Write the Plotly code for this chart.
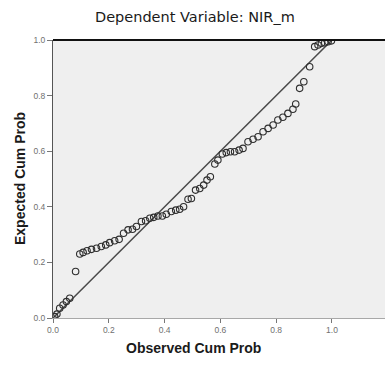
import plotly.graph_objects as go

# Normal P-P plot of regression standardized residual
observed_cum_prob = [
    0.006, 0.014, 0.024, 0.036, 0.048, 0.060, 0.081,
    0.096, 0.108, 0.122, 0.138, 0.156, 0.173, 0.189, 0.203, 0.221, 0.237,
    0.253, 0.269, 0.285, 0.299, 0.317, 0.332, 0.347, 0.361, 0.376, 0.392,
    0.406, 0.424, 0.440, 0.454, 0.468, 0.484, 0.496,
    0.511, 0.526, 0.540, 0.552, 0.564,
    0.580, 0.591, 0.607, 0.621, 0.636, 0.651, 0.667, 0.681,
    0.699, 0.717, 0.735, 0.753, 0.771, 0.789, 0.806, 0.824, 0.842, 0.860,
    0.870, 0.884, 0.899, 0.920,
    0.938, 0.950, 0.962, 0.974, 0.986, 0.998,
]
expected_cum_prob = [
    0.005, 0.014, 0.035, 0.047, 0.059, 0.071, 0.167,
    0.230, 0.236, 0.242, 0.247, 0.251, 0.257, 0.263, 0.271, 0.278, 0.283,
    0.305, 0.317, 0.319, 0.329, 0.347, 0.350, 0.359, 0.362, 0.367, 0.367,
    0.373, 0.383, 0.388, 0.391, 0.400, 0.427, 0.430,
    0.460, 0.466, 0.478, 0.496, 0.508,
    0.554, 0.568, 0.590, 0.595, 0.598, 0.598, 0.604, 0.610,
    0.634, 0.643, 0.652, 0.670, 0.682, 0.694, 0.712, 0.722, 0.736, 0.751,
    0.770, 0.826, 0.850, 0.904,
    0.976, 0.982, 0.988, 0.990, 0.994, 0.997,
]
tick_values = [0.0, 0.2, 0.4, 0.6, 0.8, 1.0]
tick_labels = ["0.0", "0.2", "0.4", "0.6", "0.8", "1.0"]

title_text = "Dependent Variable: NIR_m"
x_title = "Observed Cum Prob"
y_title = "Expected Cum Prob"

W, H = 385, 365
ML, MR, MT, MB = 53, 0, 40, 47

fig = go.Figure()

# diagonal reference line
fig.add_trace(go.Scatter(
    x=[0, 1], y=[0, 1], mode="lines",
    line=dict(color="#4a4a4a", width=1.5),
    hoverinfo="skip", showlegend=False,
))

fig.add_trace(go.Scatter(
    x=observed_cum_prob, y=expected_cum_prob, mode="markers",
    marker=dict(symbol="circle-open", size=6.5, color="#2e2e2e",
                line=dict(width=1.1, color="#2e2e2e")),
    showlegend=False,
))

tick_font = dict(family="Liberation Sans, Arial", size=8.5, color="#707070")

fig.update_layout(
    width=W, height=H,
    margin=dict(l=ML, r=MR, t=MT, b=MB),
    paper_bgcolor="white",
    plot_bgcolor="#efefef",
    xaxis=dict(
        range=[0, 1.19], tickmode="array", tickvals=tick_values,
        ticktext=tick_labels, ticks="outside", ticklen=4, tickwidth=1,
        tickcolor="#777777", showgrid=False, zeroline=False,
        showline=True, linecolor="#a8a8a8", linewidth=1,
        tickfont=tick_font, fixedrange=True,
    ),
    yaxis=dict(
        range=[0, 1.0], tickmode="array", tickvals=tick_values,
        ticktext=tick_labels, ticks="outside", ticklen=5, tickwidth=1,
        tickcolor="#777777", showgrid=False, zeroline=False,
        showline=True, linecolor="#555555", linewidth=1,
        tickfont=tick_font, fixedrange=True,
    ),
)

plot_w = W - ML - MR
plot_h = H - MT - MB


def px_to_paper(px, py):
    """Convert a pixel position in the page to paper coordinates."""
    return (px - ML) / plot_w, (H - MB - py) / plot_h


tx, ty = px_to_paper(195, 17)
xtx, xty = px_to_paper(193, 348)
ytx, yty = px_to_paper(20, 179)

fig.add_annotation(text=title_text, x=tx, y=ty, xref="paper", yref="paper",
                   showarrow=False, xanchor="center", yanchor="middle",
                   font=dict(family="DejaVu Sans", size=14.5,
                             color="#1a1a1a"))
fig.add_annotation(text="<b>" + x_title + "</b>", x=xtx, y=xty,
                   xref="paper", yref="paper", showarrow=False,
                   xanchor="center", yanchor="middle",
                   font=dict(family="Liberation Sans, Arial", size=14,
                             color="#1a1a1a"))
fig.add_annotation(text="<b>" + y_title + "</b>", x=ytx, y=yty,
                   xref="paper", yref="paper", showarrow=False,
                   xanchor="center", yanchor="middle", textangle=-90,
                   font=dict(family="Liberation Sans, Arial", size=14,
                             color="#1a1a1a"))

# heavy frame line along the top of the plot area
fig.add_shape(type="line", xref="paper", yref="paper",
              x0=0, x1=1, y0=1, y1=1,
              line=dict(color="#111111", width=2))

fig.write_html("out.html")
